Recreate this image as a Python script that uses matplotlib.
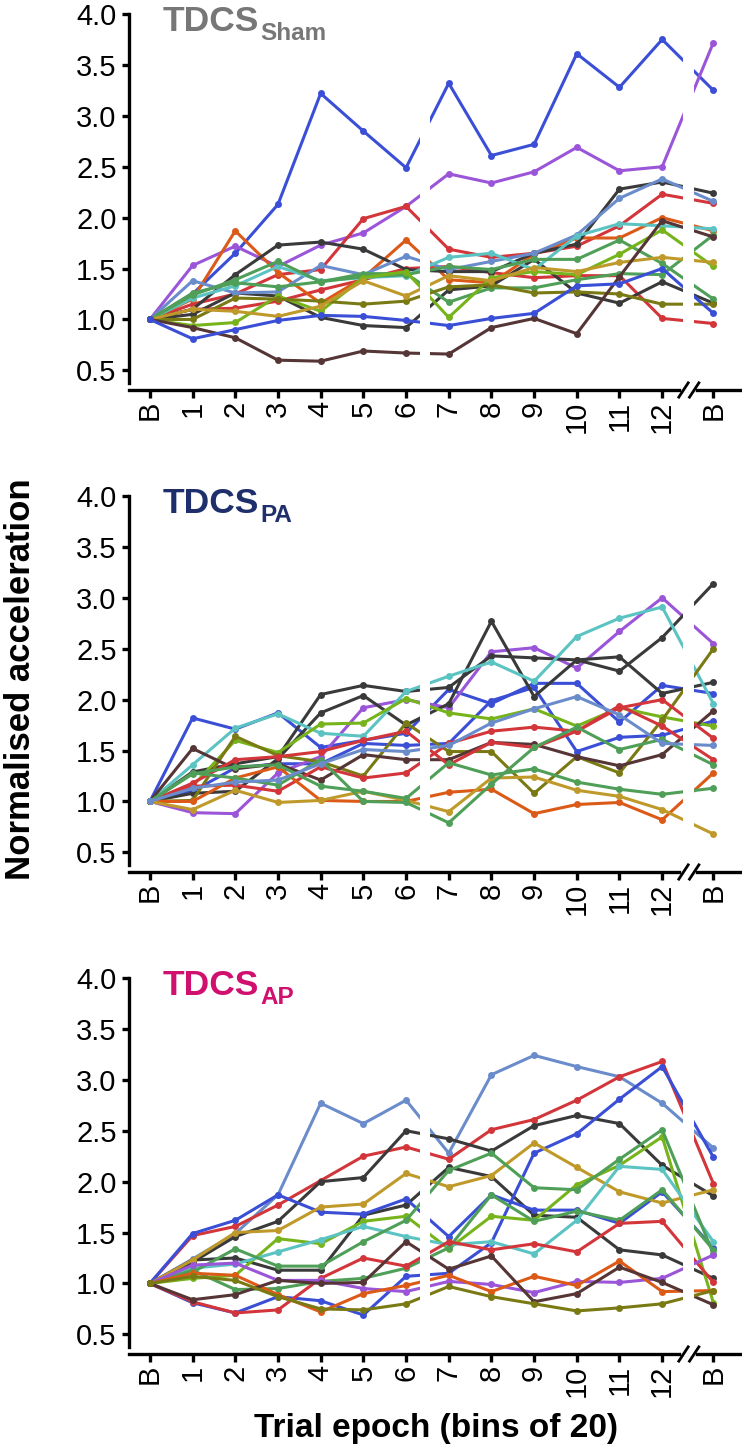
## normalised acceleration per trial epoch, three tDCS conditions
import numpy as np
import matplotlib
matplotlib.use('Agg')
import matplotlib.pyplot as plt

plt.rcParams['font.family'] = ['Liberation Sans', 'DejaVu Sans']

# x axis: baseline, 12 bins, washout baseline
x_pos = [0, 1, 2, 3, 4, 5, 6, 7, 8, 9, 10, 11, 12, 13.2]
x_labels = ['B', '1', '2', '3', '4', '5', '6', '7', '8', '9', '10', '11', '12', 'B']
y_ticks = [0.5, 1.0, 1.5, 2.0, 2.5, 3.0, 3.5, 4.0]

# colour key for each participant line (same order as the lists below)
sham_keys = ['blue', 'purple', 'red', 'red', 'orange', 'black', 'black', 'steel', 'cyan',
             'green', 'green', 'ygreen', 'olive', 'gold', 'brown', 'blue']
sham = [
    [1, 1.25, 1.65, 2.13, 3.22, 2.85, 2.49, 3.32, 2.61, 2.72, 3.61, 3.28, 3.75, 3.25],
    [1, 1.53, 1.72, 1.52, 1.73, 1.85, 2.11, 2.43, 2.34, 2.45, 2.69, 2.46, 2.50, 3.72],
    [1, 1.15, 1.25, 1.44, 1.49, 1.99, 2.11, 1.69, 1.61, 1.65, 1.72, 1.92, 2.23, 2.14],
    [1, 1.10, 1.11, 1.18, 1.29, 1.39, 1.50, 1.52, 1.46, 1.41, 1.43, 1.43, 1.01, 0.96],
    [1, 1.20, 1.87, 1.46, 1.16, 1.41, 1.78, 1.39, 1.36, 1.64, 1.80, 1.80, 2.00, 1.87],
    [1, 1.10, 1.44, 1.73, 1.76, 1.69, 1.49, 1.47, 1.47, 1.65, 1.74, 2.28, 2.35, 2.24],
    [1, 1.05, 1.26, 1.23, 1.02, 0.94, 0.92, 1.29, 1.33, 1.59, 1.26, 1.16, 1.37, 1.16],
    [1, 1.38, 1.26, 1.27, 1.53, 1.44, 1.62, 1.49, 1.57, 1.65, 1.83, 2.19, 2.38, 2.16],
    [1, 1.21, 1.33, 1.52, 1.38, 1.41, 1.43, 1.61, 1.65, 1.49, 1.82, 1.94, 1.92, 1.89],
    [1, 1.24, 1.39, 1.57, 1.37, 1.45, 1.45, 1.17, 1.31, 1.31, 1.39, 1.45, 1.44, 1.83],
    [1, 1.26, 1.36, 1.32, 1.37, 1.42, 1.44, 1.52, 1.49, 1.59, 1.59, 1.78, 1.55, 1.20],
    [1, 0.94, 0.97, 1.23, 1.08, 1.41, 1.47, 1.02, 1.41, 1.47, 1.44, 1.64, 1.88, 1.52],
    [1, 1.00, 1.21, 1.20, 1.18, 1.15, 1.18, 1.32, 1.34, 1.26, 1.27, 1.25, 1.15, 1.15],
    [1, 1.10, 1.08, 1.03, 1.13, 1.38, 1.23, 1.43, 1.38, 1.51, 1.47, 1.56, 1.61, 1.56],
    [1, 0.92, 0.82, 0.60, 0.59, 0.69, 0.67, 0.66, 0.92, 1.01, 0.86, 1.42, 1.97, 1.81],
    [1, 0.81, 0.90, 0.99, 1.04, 1.03, 0.99, 0.94, 1.01, 1.06, 1.33, 1.35, 1.50, 1.06],
]

pa_keys = ['blue', 'blue', 'purple', 'black', 'black', 'cyan', 'ygreen', 'olive', 'brown',
           'red', 'red', 'orange', 'gold', 'green', 'green', 'steel']
pa = [
    [1, 1.82, 1.71, 1.87, 1.53, 1.60, 1.67, 2.10, 1.96, 2.16, 2.16, 1.78, 2.14, 2.06],
    [1, 1.10, 1.33, 1.37, 1.37, 1.57, 1.55, 1.57, 1.99, 2.12, 1.49, 1.63, 1.65, 1.79],
    [1, 0.89, 0.88, 1.28, 1.44, 1.92, 2.00, 1.92, 2.47, 2.51, 2.31, 2.67, 3.00, 2.55],
    [1, 1.08, 1.10, 1.42, 1.87, 2.04, 1.75, 1.96, 2.77, 2.03, 2.39, 2.28, 2.61, 3.14],
    [1, 1.29, 1.37, 1.44, 2.05, 2.14, 2.08, 2.12, 2.43, 2.41, 2.39, 2.42, 2.06, 2.17],
    [1, 1.36, 1.72, 1.86, 1.67, 1.64, 2.08, 2.23, 2.37, 2.18, 2.62, 2.80, 2.91, 1.96],
    [1, 1.15, 1.60, 1.48, 1.76, 1.77, 2.01, 1.87, 1.81, 1.91, 1.74, 1.92, 1.83, 1.74],
    [1, 1.01, 1.64, 1.45, 1.39, 1.25, 1.77, 1.49, 1.49, 1.08, 1.44, 1.28, 1.80, 2.50],
    [1, 1.52, 1.32, 1.37, 1.21, 1.46, 1.41, 1.41, 1.58, 1.56, 1.44, 1.35, 1.46, 1.89],
    [1, 1.18, 1.41, 1.44, 1.49, 1.60, 1.69, 1.36, 1.58, 1.53, 1.69, 1.94, 1.74, 1.41],
    [1, 1.15, 1.16, 1.10, 1.34, 1.23, 1.28, 1.57, 1.69, 1.73, 1.69, 1.92, 2.00, 1.62],
    [1, 1.00, 1.23, 1.34, 1.01, 1.00, 1.00, 1.09, 1.12, 0.88, 0.97, 0.99, 0.82, 1.28],
    [1, 0.92, 1.11, 0.99, 1.01, 1.10, 1.01, 0.90, 1.23, 1.24, 1.11, 1.05, 0.92, 0.68],
    [1, 1.28, 1.23, 1.16, 1.41, 1.00, 0.99, 0.79, 1.17, 1.53, 1.73, 1.51, 1.61, 1.36],
    [1, 1.27, 1.34, 1.36, 1.15, 1.10, 1.03, 1.38, 1.26, 1.32, 1.19, 1.12, 1.07, 1.13],
    [1, 1.13, 1.19, 1.21, 1.37, 1.51, 1.49, 1.55, 1.77, 1.91, 2.03, 1.85, 1.57, 1.55],
]

ap_keys = ['steel', 'red', 'black', 'black', 'blue', 'blue', 'gold', 'ygreen', 'cyan',
           'green', 'green', 'red', 'purple', 'orange', 'brown', 'olive']
ap = [
    [1, 1.24, 1.49, 1.87, 2.77, 2.57, 2.80, 2.28, 3.05, 3.24, 3.13, 3.03, 2.77, 2.33],
    [1, 1.47, 1.56, 1.77, 2.01, 2.25, 2.34, 2.22, 2.51, 2.61, 2.80, 3.03, 3.18, 1.98],
    [1, 1.21, 1.46, 1.61, 2.00, 2.04, 2.50, 2.42, 2.30, 2.55, 2.65, 2.57, 2.16, 1.86],
    [1, 1.23, 1.25, 1.13, 1.13, 1.67, 1.77, 2.14, 2.05, 1.67, 1.65, 1.33, 1.28, 1.05],
    [1, 1.49, 1.62, 1.87, 1.70, 1.68, 1.83, 1.46, 1.87, 1.72, 1.72, 1.59, 1.90, 1.35],
    [1, 0.81, 0.71, 0.87, 0.83, 0.69, 1.07, 1.10, 1.40, 2.28, 2.47, 2.81, 3.13, 2.24],
    [1, 1.23, 1.50, 1.52, 1.75, 1.78, 2.08, 1.95, 2.06, 2.38, 2.14, 1.90, 1.79, 1.92],
    [1, 1.05, 1.08, 1.44, 1.39, 1.61, 1.66, 1.34, 1.66, 1.62, 1.97, 2.16, 2.44, 0.81],
    [1, 1.15, 1.19, 1.31, 1.43, 1.56, 1.46, 1.38, 1.41, 1.29, 1.62, 2.15, 2.12, 1.41],
    [1, 1.11, 1.34, 1.17, 1.17, 1.41, 1.62, 2.11, 2.28, 1.94, 1.92, 2.22, 2.51, 1.29],
    [1, 1.13, 0.94, 0.95, 1.02, 1.05, 1.15, 1.35, 1.87, 1.61, 1.71, 1.62, 1.92, 1.33],
    [1, 0.82, 0.71, 0.74, 1.05, 1.25, 1.17, 1.41, 1.33, 1.39, 1.31, 1.59, 1.61, 1.01],
    [1, 1.18, 1.20, 1.03, 1.03, 0.95, 0.92, 1.02, 0.99, 0.91, 1.02, 1.01, 1.05, 1.28],
    [1, 1.10, 1.08, 0.89, 0.72, 0.90, 0.98, 1.08, 0.92, 1.07, 0.98, 1.22, 0.92, 0.93],
    [1, 0.84, 0.89, 1.03, 1.00, 1.01, 1.41, 1.14, 1.27, 0.82, 0.90, 1.16, 1.01, 0.79],
    [1, 1.07, 1.03, 0.87, 0.75, 0.74, 0.80, 0.97, 0.87, 0.80, 0.73, 0.76, 0.80, 0.93],
]

colours = {'blue': '#3a4fd6', 'purple': '#9a55d9', 'red': '#d3363a', 'orange': '#dc5a18',
           'black': '#3a3a3a', 'steel': '#6a8ccb', 'cyan': '#5cc3c3', 'green': '#4f9f58',
           'ygreen': '#77b41c', 'olive': '#7a7a14', 'gold': '#bf9a2a', 'brown': '#553535'}

panels = [(sham, sham_keys, 'Sham', '#777777'),
          (pa, pa_keys, 'PA', '#1e2f6c'),
          (ap, ap_keys, 'AP', '#d0106e')]

W, H = 742, 1446
fig = plt.figure(figsize=(W / 100, H / 100), dpi=100)
tops = [14, 496, 978]   # pixel row of y = 4.0 in each panel
ax_h = 376

for (data, keys, sub, tcol), top in zip(panels, tops):
    ax = fig.add_axes([129 / W, 1 - (top + ax_h) / H, 1 - 129 / W, ax_h / H])
    for vals, k in zip(data, keys):
        ax.plot(x_pos, vals, '-o', color=colours[k], lw=2.2, ms=5, mew=0, zorder=2)

    # white breaks between bins 6/7 and before the last baseline
    for a, b in [(6.33, 6.56), (12.49, 12.75)]:
        ax.axvspan(a, b, ymin=0.03, ymax=1, color='white', lw=0, zorder=3)

    ax.set_xlim(-0.49, 13.87)
    ax.set_ylim(0.307, 4.0)
    ax.set_xticks(x_pos)
    ax.set_xticklabels(x_labels, rotation=90, fontsize=21)
    ax.set_yticks(y_ticks)
    ax.set_yticklabels(['%.1f' % v for v in y_ticks], fontsize=21)
    ax.tick_params(axis='x', length=6, width=2.4, pad=2)
    ax.tick_params(axis='y', length=5, width=2.4, pad=4)
    for s in ['top', 'right']:
        ax.spines[s].set_visible(False)
    ax.spines['left'].set_linewidth(2.4)
    ax.spines['bottom'].set_linewidth(2.4)
    ax.spines['left'].set_bounds(0.38, 4.0)

    # axis break marks //
    tr = ax.get_xaxis_transform()
    ax.plot([12.52, 12.73], [0, 0], color='white', lw=4, transform=tr, clip_on=False, zorder=4)
    for xc in (12.5, 12.75):
        ax.plot([xc - 0.11, xc + 0.11], [-0.019, 0.019], color='black', lw=2,
                transform=tr, clip_on=False, zorder=5)

    t = ax.text(0.055, 0.956, 'TDCS', transform=ax.transAxes, fontsize=25.5,
                fontweight='bold', color=tcol, va='baseline')
    ax.annotate(sub, xy=(1, 0), xycoords=t, xytext=(1, -1.5), textcoords='offset points',
                fontsize=17.5, fontweight='bold', color=tcol, va='baseline')

fig.text(21 / W, 1 - 679 / H, 'Normalised acceleration', rotation=90, ha='center',
         va='center', fontsize=25, fontweight='bold')
fig.text(436 / W, 1 - 1437 / H, 'Trial epoch (bins of 20)', ha='center', va='baseline',
         fontsize=24, fontweight='bold')

plt.savefig('out.png', dpi=100)
